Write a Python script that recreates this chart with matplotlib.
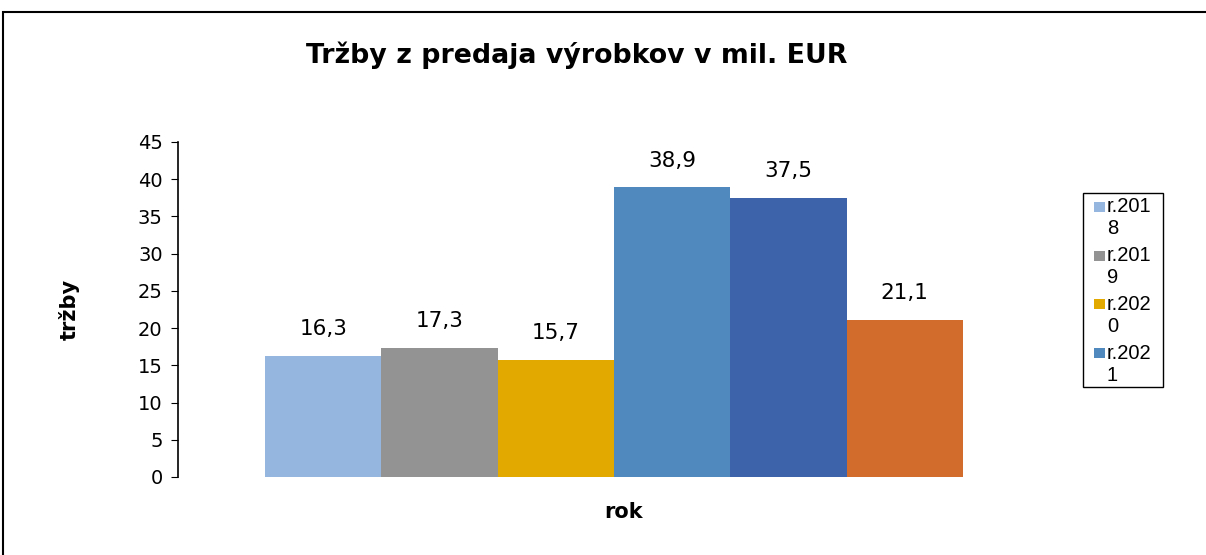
import matplotlib
matplotlib.use("Agg")
import matplotlib.pyplot as plt
from matplotlib.patches import Rectangle

plt.rcParams['font.family'] = ['DejaVu Sans']

years = ["r.2018", "r.2019", "r.2020", "r.2021", "r.2022", "r.2023"]
values = [16.3, 17.3, 15.7, 38.9, 37.5, 21.1]
colors = ["#95B7DF", "#939393", "#E2A900", "#4F89BD", "#3D63AA", "#D26C2C"]
n_legend = 4  # legend in reference only shows the first four entries

W, H = 1206, 555
fig = plt.figure(figsize=(W / 100, H / 100), dpi=100)
ax = fig.add_axes([178 / W, 1 - 477 / H, (1050 - 178) / W, (477 - 142) / H])

bw = 0.8 / len(values)
for i, (v, c) in enumerate(zip(values, colors)):
    x = -0.4 + bw * (i + 0.5)
    ax.bar(x, v, width=bw, color=c, edgecolor="none")
    ax.text(x, v + 3.6, f"{v:.1f}".replace(".", ","), ha="center", va="center", fontsize=15.5)

ax.set_xlim(-0.5, 0.5)
ax.set_ylim(0, 45)
ax.set_yticks(range(0, 46, 5))
ax.set_xticks([])
ax.tick_params(axis="y", labelsize=14, length=5, direction="out", pad=6)
for s in ("top", "right", "bottom"):
    ax.spines[s].set_visible(False)
ax.spines["left"].set_linewidth(1.2)
ax.set_ylabel("tržby", fontsize=15, fontweight="bold", labelpad=42)
ax.set_xlabel("rok", fontsize=15, fontweight="bold", labelpad=18)
ax.xaxis.label.set_x(0.511)

fig.text(577 / W, 1 - 55 / H, "Tržby z predaja výrobkov v mil. EUR", ha="center", va="center",
         fontsize=19.3, fontweight="bold")

# legend drawn by hand: text wraps, marker sits on first line (first four entries only)
def px(x, y):
    return x / W, 1 - y / H

fig.patches.append(Rectangle(px(1083, 387), 80 / W, 194 / H, transform=fig.transFigure,
                             fill=False, edgecolor="black", linewidth=1.0))
for i in range(n_legend):
    yc = 207 + 48.7 * i
    fig.patches.append(Rectangle(px(1094, yc + 5), 11 / W, 10 / H, transform=fig.transFigure,
                                 facecolor=colors[i], edgecolor="none"))
    lab = years[i]
    fig.text(*px(1107, yc), lab[:5], ha="left", va="center", fontsize=14.5, family="Liberation Sans")
    fig.text(*px(1107, yc + 22), lab[5:], ha="left", va="center", fontsize=14.5, family="Liberation Sans")

fig.patches.append(Rectangle((3 / W, -0.1), 1.1, 1 - 12 / H + 0.1, transform=fig.transFigure,
                             fill=False, edgecolor="black", linewidth=1.5))

fig.savefig("out.png", dpi=100)
